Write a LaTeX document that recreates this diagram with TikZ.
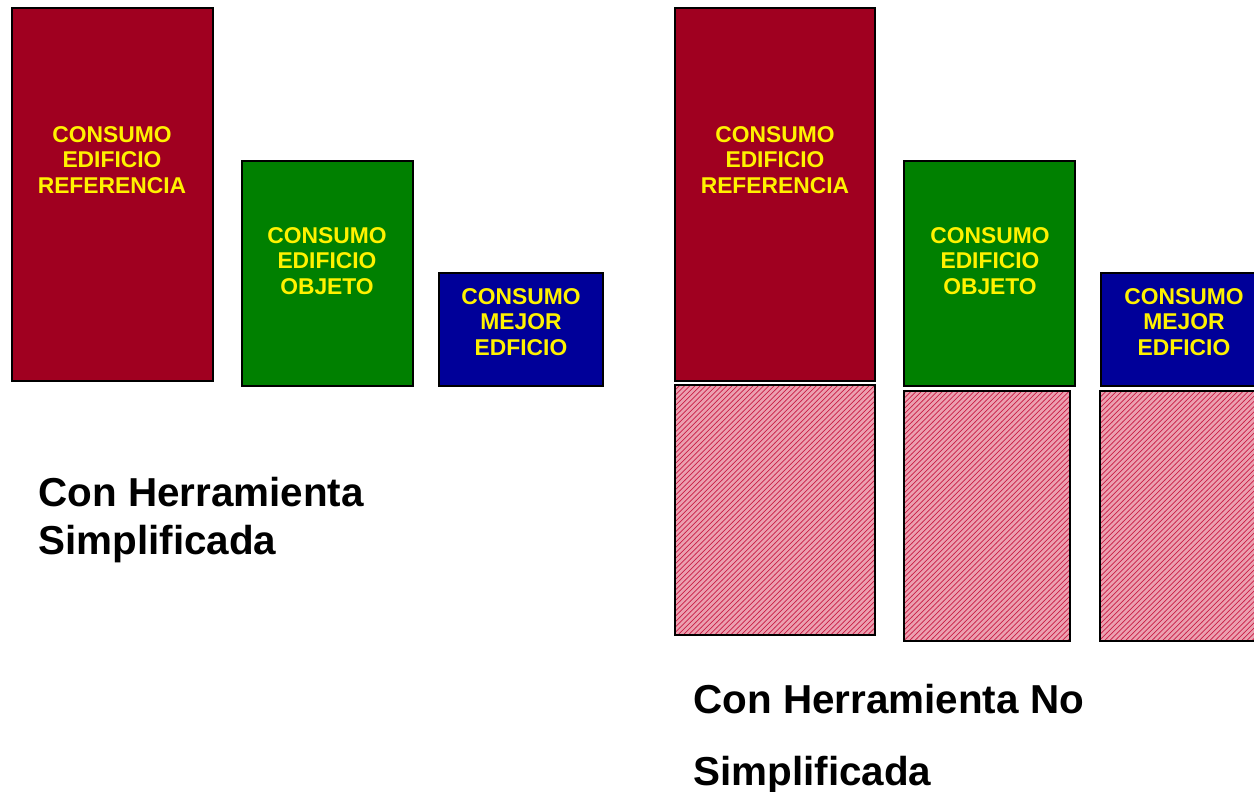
\documentclass[tikz,border=0pt]{standalone}
\usepackage{fontspec}
\setmainfont{Liberation Sans}
\usetikzlibrary{patterns}
\definecolor{refred}{RGB}{160,0,32}
\definecolor{objgreen}{RGB}{0,128,0}
\definecolor{bestblue}{RGB}{0,0,153}
\definecolor{hatchpink}{RGB}{236,160,176}
\definecolor{hatchred}{RGB}{200,30,70}
\newcommand{\boxfont}{\bfseries\fontsize{13}{14.7}\selectfont}

\begin{document}
\begin{tikzpicture}[x=0.02cm,y=-0.02cm,
  bar/.style={draw=black,line width=1pt},
  hatch/.style={draw=black,line width=1pt,pattern=north east lines,pattern color=hatchred},
  lbl/.style={text=yellow,align=center,font=\boxfont,inner sep=0pt}]
\useasboundingbox (0,0) rectangle (1254,791);
\clip (0,0) rectangle (1254,791);
% con herramienta simplificada
\fill[white] (0,0) rectangle (1254,791);
\draw[bar,fill=refred] (12,8) rectangle (213,381);
\draw[bar,fill=objgreen] (242,161) rectangle (413,386);
\draw[bar,fill=bestblue] (439,273) rectangle (603,386);
\node[lbl] (refA) at (112,160) {CONSUMO\\EDIFICIO\\REFERENCIA};
\node[lbl] (objA) at (327,261) {CONSUMO\\EDIFICIO\\OBJETO};
\node[lbl] (bestA) at (521,322) {CONSUMO\\MEJOR\\EDFICIO};
\node[anchor=base west,align=left,inner sep=0pt,font=\bfseries\fontsize{23}{27.2}\selectfont] (capA) at (38,554) {Con Herramienta\\Simplificada};
% con herramienta no simplificada
\draw[bar,fill=refred] (675,8) rectangle (875,381);
\draw[bar,fill=objgreen] (904,161) rectangle (1075,386);
\draw[bar,fill=bestblue] (1101,273) rectangle (1265,386);
\fill[hatchpink] (675,385) rectangle (875,635);
\draw[hatch] (675,385) rectangle (875,635);
\fill[hatchpink] (904,391) rectangle (1070,641);
\draw[hatch] (904,391) rectangle (1070,641);
\fill[hatchpink] (1100,391) rectangle (1265,641);
\draw[hatch] (1100,391) rectangle (1265,641);
\node[lbl] (refB) at (775,160) {CONSUMO\\EDIFICIO\\REFERENCIA};
\node[lbl] (objB) at (990,261) {CONSUMO\\EDIFICIO\\OBJETO};
\node[lbl] (bestB) at (1184,322) {CONSUMO\\MEJOR\\EDFICIO};
\node[anchor=base west,align=left,inner sep=0pt,font=\bfseries\fontsize{23}{40.8}\selectfont] (capB) at (693,785) {Con Herramienta No\\Simplificada};
\end{tikzpicture}
\end{document}
